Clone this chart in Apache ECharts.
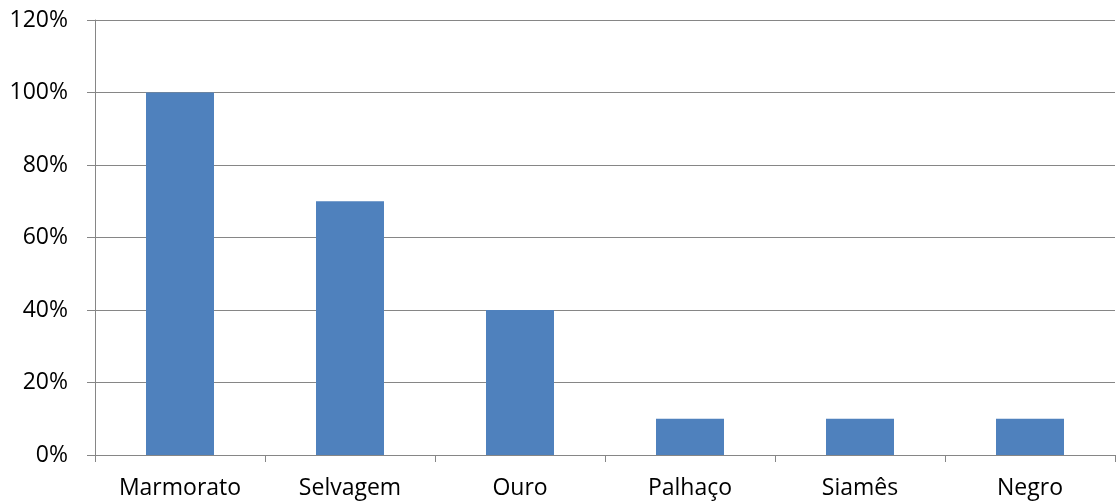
<!DOCTYPE html>
<html>
<head>
<meta charset="utf-8">
<script src="https://cdn.jsdelivr.net/npm/echarts@6/dist/echarts.min.js"></script>
<style>
  html, body { margin: 0; padding: 0; background: #ffffff; }
  #chart { width: 1117px; height: 504px; }
</style>
</head>
<body>
<div id="chart"></div>
<script>
// Varieties and their share (percent)
const categories = ['Marmorato', 'Selvagem', 'Ouro', 'Palhaço', 'Siamês', 'Negro'];
const shares = [100, 70, 40, 10, 10, 10];
const yTicks = { min: 0, max: 120, interval: 20 };

const axisGray = '#868686';
const font = '"Open Sans", "Liberation Sans", sans-serif';

const chart = echarts.init(document.getElementById('chart'), null, { renderer: 'canvas' });
chart.setOption({
  animation: false,
  backgroundColor: '#ffffff',
  grid: { left: 95, right: 2, top: 20, bottom: 49, containLabel: false },
  xAxis: {
    type: 'category',
    data: categories,
    boundaryGap: true,
    axisLine: { show: true, lineStyle: { color: axisGray, width: 1 } },
    axisTick: { show: true, length: 7, lineStyle: { color: axisGray } },
    axisLabel: { color: '#000000', fontSize: 23, fontFamily: font, margin: 22 },
    splitLine: { show: false }
  },
  yAxis: {
    type: 'value',
    min: yTicks.min,
    max: yTicks.max,
    interval: yTicks.interval,
    axisLine: { show: true, lineStyle: { color: axisGray, width: 1 } },
    axisTick: { show: true, length: 8, lineStyle: { color: axisGray } },
    axisLabel: {
      color: '#000000', fontSize: 23, fontFamily: font, margin: 27,
      formatter: v => v + '%'
    },
    splitLine: { show: true, lineStyle: { color: axisGray, width: 1 } }
  },
  series: [{
    type: 'bar',
    data: shares,
    barWidth: '40%',
    itemStyle: { color: '#4F81BD' }
  }]
});
</script>
</body>
</html>
